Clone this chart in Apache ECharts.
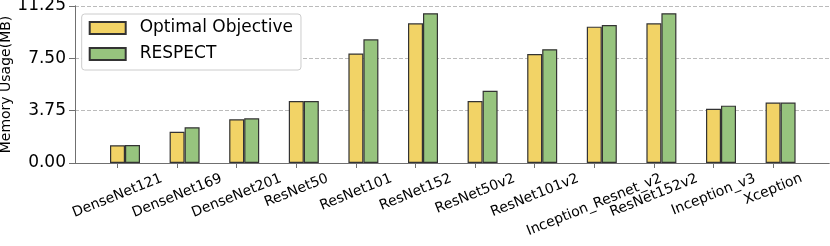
<!DOCTYPE html>
<html><head><meta charset="utf-8">
<script src="https://cdn.jsdelivr.net/npm/echarts@6/dist/echarts.min.js"></script>
<style>html,body{margin:0;padding:0;background:#fff}#c{width:830px;height:246px}</style>
</head><body><div id="c"></div>
<script>
const categories = ['DenseNet121','DenseNet169','DenseNet201','ResNet50','ResNet101','ResNet152','ResNet50v2','ResNet101v2','Inception_Resnet_v2','ResNet152v2','Inception_v3','Xception'];
const optimal = [1.27, 2.24, 3.13, 4.44, 7.85, 10.01, 4.44, 7.81, 9.77, 10.01, 3.89, 4.33];
const respect = [1.29, 2.56, 3.20, 4.44, 8.86, 10.73, 5.18, 8.15, 9.89, 10.73, 4.11, 4.33];
const yTicks = [0, 3.75, 7.5, 11.25];
const seriesNames = ['Optimal Objective', 'RESPECT'];

const FONT = 'DejaVu Sans';
const SPINE = '#707070';
const plotT = 6, plotB = 163;
const step = 59.6, firstCenter = 125, barW = 15;
const innerL = firstCenter - step / 2;
const innerW = step * categories.length;
const rot = 22, th = rot * Math.PI / 180;
const lblSize = 14, lblLH = 16, lblMargin = 2, lblTop = 170.5;

const ctx = document.createElement('canvas').getContext('2d');
ctx.font = lblSize + 'px "' + FONT + '"';
const xData = categories.map(c => {
  const w = ctx.measureText(c).width;
  const bboxH = w * Math.sin(th) + lblLH * Math.cos(th);
  const d = lblTop + bboxH / 2 - (plotB + lblMargin);
  return { value: c, textStyle: {
    align: 'center', verticalAlign: 'top', fontSize: lblSize, lineHeight: lblLH, color: '#000', fontFamily: FONT,
    padding: [Math.max(0, d * Math.cos(th) - lblLH / 2), 2 * d * Math.sin(th), 0, 0] } };
});

const yMin = yTicks[0], yMax = yTicks[yTicks.length - 1], yInt = yTicks[1] - yTicks[0];
const gridH = plotB - plotT;

const chart = echarts.init(document.getElementById('c'), null, { renderer: 'canvas' });
chart.setOption({
  animation: false,
  textStyle: { fontFamily: FONT },
  grid: [
    { left: 75, top: plotT, width: 754, height: gridH, outerBoundsMode: 'none' },
    { left: innerL, top: plotT, width: innerW, height: gridH, outerBoundsMode: 'none' },
    { left: innerL - barW / 2, top: plotT, width: innerW, height: gridH, outerBoundsMode: 'none' }
  ],
  legend: {
    orient: 'vertical', left: 81.7, top: 14,
    padding: [4, 8, 6, 7],
    icon: 'rect',
    itemWidth: 36, itemHeight: 12, itemGap: 6,
    textStyle: { fontSize: 17, lineHeight: 20, color: '#000', padding: [0, 0, 0, 9] },
    backgroundColor: '#fff', borderColor: '#cccccc', borderWidth: 1, borderRadius: 3,
    data: seriesNames
  },
  xAxis: [
    { gridIndex: 0, type: 'value', min: 0, max: 1, position: 'bottom',
      axisLine: { show: true, lineStyle: { color: SPINE, width: 1 } },
      axisTick: { show: false }, axisLabel: { show: false }, splitLine: { show: false } },
    { gridIndex: 0, type: 'value', min: 0, max: 1, position: 'top',
      axisLine: { show: true, lineStyle: { color: SPINE, width: 1 } },
      axisTick: { show: false }, axisLabel: { show: false }, splitLine: { show: false } },
    { gridIndex: 1, type: 'category', data: categories,
      axisLine: { show: false }, axisTick: { show: false }, axisLabel: { show: false }, splitLine: { show: false } },
    { gridIndex: 2, type: 'category', data: xData,
      axisLine: { show: false },
      axisTick: { show: true, alignWithLabel: true, length: 5, lineStyle: { color: SPINE } },
      axisLabel: { show: true, interval: 0, hideOverlap: false, rotate: rot, margin: lblMargin,
        align: 'center', verticalAlign: 'top', fontSize: lblSize, lineHeight: lblLH, color: '#000', fontFamily: FONT },
      splitLine: { show: false } }
  ],
  yAxis: [
    { gridIndex: 0, type: 'value', min: yMin, max: yMax, interval: yInt, position: 'left',
      name: 'Memory Usage(MB)', nameLocation: 'middle', nameGap: 62, nameMoveOverlap: false,
      nameTextStyle: { fontSize: 14, color: '#000', fontFamily: FONT },
      axisLine: { show: true, lineStyle: { color: SPINE, width: 1 } },
      axisTick: { show: true, length: 6, lineStyle: { color: SPINE } },
      axisLabel: { fontSize: 17, color: '#000', margin: 9, formatter: v => v.toFixed(2) },
      splitLine: { show: true, lineStyle: { color: '#bbbbbb', type: [4, 2], width: 1 } } },
    { gridIndex: 0, type: 'value', min: yMin, max: yMax, position: 'right',
      axisLine: { show: true, lineStyle: { color: SPINE, width: 1 } },
      axisTick: { show: false }, axisLabel: { show: false }, splitLine: { show: false } },
    { gridIndex: 1, type: 'value', min: yMin, max: yMax, show: false },
    { gridIndex: 2, type: 'value', min: yMin, max: yMax, show: false }
  ],
  series: [
    { name: seriesNames[0], type: 'bar', xAxisIndex: 2, yAxisIndex: 2, data: optimal,
      barWidth: barW, barGap: '0%',
      itemStyle: { color: '#F2D366', borderColor: '#333333', borderWidth: 1.2 } },
    { name: seriesNames[1], type: 'bar', xAxisIndex: 2, yAxisIndex: 2, data: respect,
      barWidth: barW, barGap: '0%',
      itemStyle: { color: '#97C47E', borderColor: '#333333', borderWidth: 1.2 } }
  ]
});
</script></body></html>
